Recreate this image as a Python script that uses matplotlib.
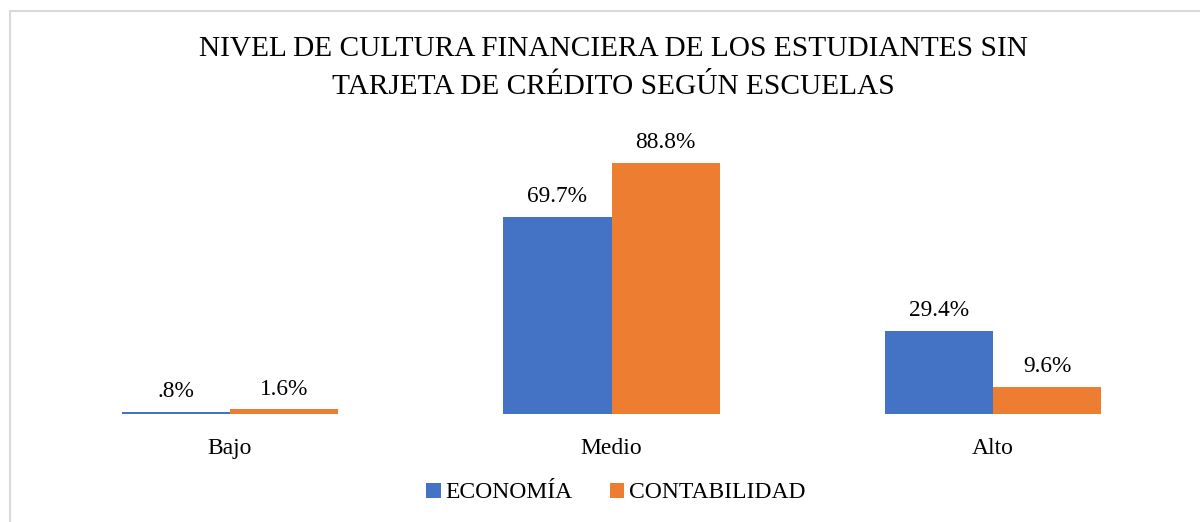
import numpy as np
import matplotlib.pyplot as plt
from matplotlib.patches import Rectangle

categories = ["Bajo", "Medio", "Alto"]
economia = [0.8, 69.7, 29.4]
contabilidad = [1.6, 88.8, 9.6]
economia_labels = [".8%", "69.7%", "29.4%"]
contabilidad_labels = ["1.6%", "88.8%", "9.6%"]

plt.rcParams['font.family'] = ['Liberation Serif', 'DejaVu Serif']

W, H = 1200, 522
fig = plt.figure(figsize=(12, 5.22), dpi=100)

# chart border (only left/top visible in the reference)
fig.patches.append(Rectangle((10 / W, -0.1), 1.2, 1 - 11 / H + 0.1,
                             transform=fig.transFigure, fill=False,
                             edgecolor="#d9d9d9", linewidth=1.5))

ax = fig.add_axes([39 / W, (H - 414) / H, (1184 - 39) / W, 283 / H])

x = np.arange(len(categories))
w = 0.283
b1 = ax.bar(x - w / 2, economia, w, color="#4472C4", label="ECONOMÍA")
b2 = ax.bar(x + w / 2, contabilidad, w, color="#ED7D31", label="CONTABILIDAD")

for bars, labels in [(b1, economia_labels), (b2, contabilidad_labels)]:
    for bar, lab in zip(bars, labels):
        ax.annotate(lab, (bar.get_x() + bar.get_width() / 2, bar.get_height()),
                    xytext=(0, 7), textcoords="offset points",
                    ha="center", va="bottom", fontsize=16.8)

ax.set_xlim(-0.5, 2.5)
ax.set_ylim(0, 100)
ax.set_xticks(x)
ax.set_xticklabels(categories, fontsize=17)
ax.tick_params(axis="x", length=0, pad=17)
ax.set_yticks([])
for s in ax.spines.values():
    s.set_visible(False)

fig.text(613 / W, 1 - 68 / H,
         "NIVEL DE CULTURA FINANCIERA DE LOS ESTUDIANTES SIN\nTARJETA DE CRÉDITO SEGÚN ESCUELAS",
         ha="center", va="center", fontsize=21.2, linespacing=1.55)

fig.legend(handles=[b1, b2], loc="center", bbox_to_anchor=(616 / W, 1 - 493 / H),
           ncol=2, frameon=False, fontsize=17, handlelength=0.6, handleheight=0.6,
           handletextpad=0.2, columnspacing=1.6)

fig.savefig("out.png", dpi=100)
